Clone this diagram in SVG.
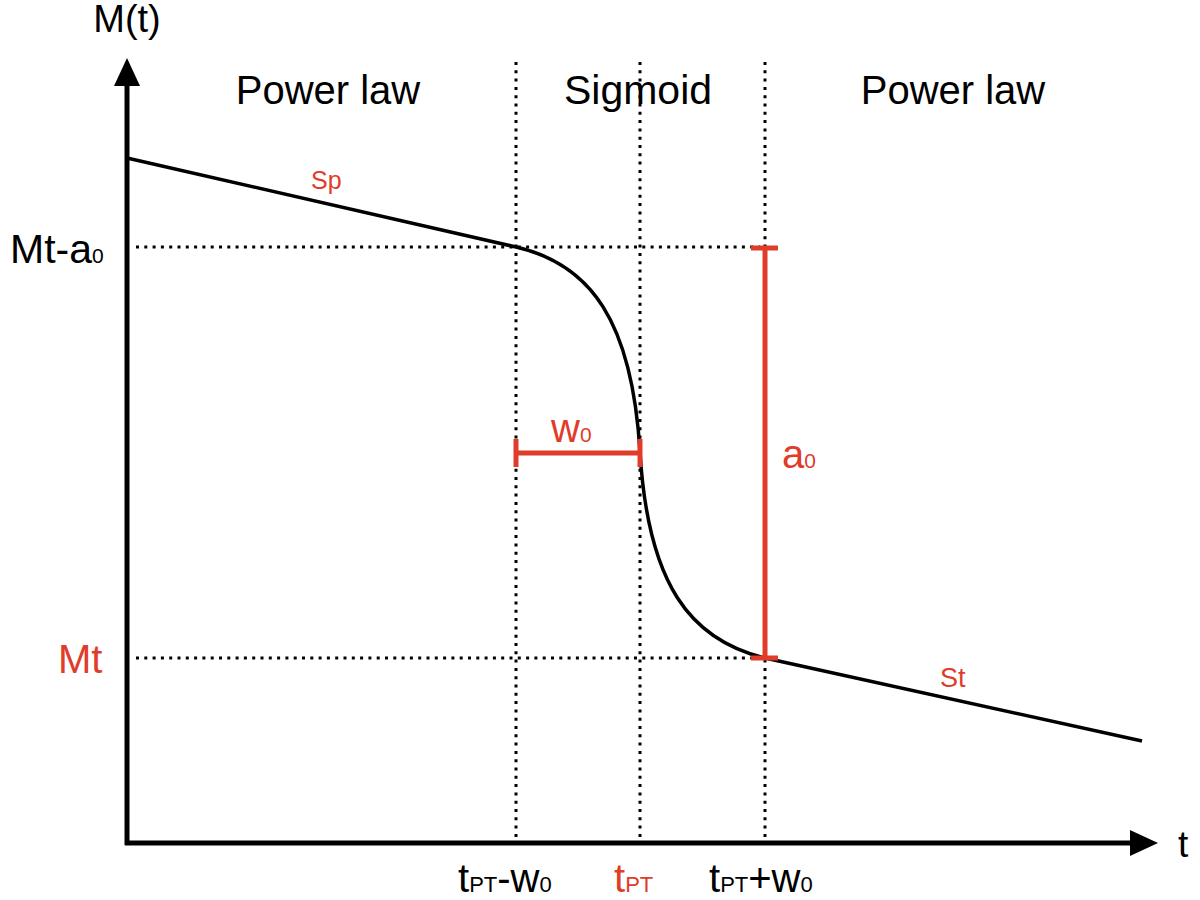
<svg xmlns="http://www.w3.org/2000/svg" width="1200" height="900" viewBox="0 0 1200 900">
<style>
text{font-family:"Liberation Sans",Arial,sans-serif;fill:#000}
.red{fill:#E03C2A}
.dot{stroke:#000;stroke-width:3;stroke-dasharray:3 5.3;fill:none}
.axis{stroke:#000;stroke-width:5;fill:none}
.curve{stroke:#000;stroke-width:3.5;fill:none}
.bar{stroke:#E03C2A;stroke-width:5;fill:none}
.big{font-size:40px}
.sub{font-size:22px}
</style>
<rect width="1200" height="900" fill="#fff"/>
<g id="guides">
<path class="dot" d="M516,62V843M640,62V843M765,62V843"/>
<path class="dot" d="M136,247H760M136,658H760"/>
</g>
<g id="axes">
<path class="axis" d="M127,845V82M125,843H1132"/>
<polygon points="127,58 114,86 140,86" fill="#000"/>
<polygon points="1158,843 1130,830 1130,856" fill="#000"/>
<text x="127" y="32" text-anchor="middle" font-size="38">M(t)</text>
<text x="1178" y="857" font-size="37">t</text>
</g>
<g id="curve">
<path class="curve" d="M127,158L516,247C590,264 632,320 640,452C648,584 690,640 765,658L1142,741"/>
</g>
<g id="regions">
<text x="328" y="104" text-anchor="middle" class="big">Power law</text>
<text x="638" y="104" text-anchor="middle" font-size="41">Sigmoid</text>
<text x="953" y="104" text-anchor="middle" class="big">Power law</text>
</g>
<g id="w0">
<path class="bar" d="M516,453H640M516,439V467M640,439V467"/>
<text x="551" y="442" class="red" font-size="40">w<tspan font-size="21">0</tspan></text>
</g>
<g id="a0">
<path class="bar" d="M765,247V658M751,248H778M751,658H778"/>
<text x="782" y="468" class="red" font-size="40">a<tspan font-size="21">0</tspan></text>
</g>
<g id="slopes">
<text x="311" y="189" class="red" font-size="25">Sp</text>
<text x="940" y="687" class="red" font-size="27">St</text>
</g>
<g id="ylabels">
<text x="10" y="263" font-size="41">Mt-a<tspan font-size="21">0</tspan></text>
<text x="58" y="673" class="red" font-size="40">Mt</text>
</g>
<g id="xlabels">
<text x="458" y="892" font-size="40">t<tspan class="sub">PT</tspan>-w<tspan class="sub">0</tspan></text>
<text x="614" y="892" class="red" font-size="40">t<tspan class="sub">PT</tspan></text>
<text x="709" y="892" font-size="40">t<tspan class="sub">PT</tspan>+w<tspan class="sub">0</tspan></text>
</g>
</svg>
